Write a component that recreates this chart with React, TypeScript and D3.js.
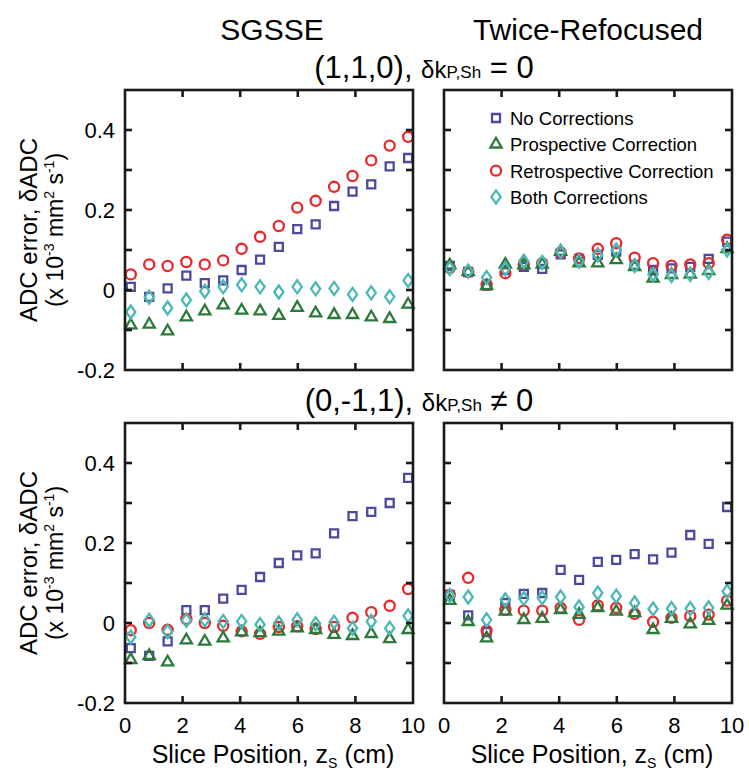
import React, { useEffect, useRef } from 'react';
import * as d3 from 'd3';

// slice positions (cm)
const slicePos = [0.2, 0.84, 1.48, 2.13, 2.77, 3.41, 4.05, 4.69, 5.34, 5.98, 6.62, 7.26, 7.9, 8.55, 9.19, 9.83];

// SGSSE, (1,1,0)
const sgNo110 = [0.008, -0.017, 0.004, 0.036, 0.017, 0.024, 0.05, 0.076, 0.108, 0.152, 0.164, 0.21, 0.246, 0.264, 0.309, 0.33];
const sgPro110 = [-0.088, -0.086, -0.103, -0.068, -0.053, -0.038, -0.051, -0.053, -0.064, -0.044, -0.058, -0.062, -0.062, -0.068, -0.072, -0.036];
const sgRetro110 = [0.039, 0.064, 0.06, 0.07, 0.064, 0.074, 0.103, 0.133, 0.16, 0.206, 0.223, 0.258, 0.285, 0.324, 0.361, 0.383];
const sgBoth110 = [-0.055, -0.018, -0.045, -0.025, -0.003, 0.008, 0.013, 0.008, -0.005, 0.008, 0.003, 0.004, -0.011, -0.007, -0.017, 0.024];

// Twice-Refocused, (1,1,0)
const trNo110 = [0.06, 0.045, 0.011, 0.05, 0.058, 0.053, 0.089, 0.078, 0.088, 0.096, 0.063, 0.05, 0.054, 0.058, 0.078, 0.121];
const trPro110 = [0.062, 0.045, 0.01, 0.064, 0.062, 0.064, 0.096, 0.067, 0.067, 0.075, 0.058, 0.029, 0.038, 0.039, 0.048, 0.103];
const trRetro110 = [0.055, 0.045, 0.013, 0.042, 0.064, 0.067, 0.094, 0.079, 0.103, 0.117, 0.081, 0.067, 0.061, 0.064, 0.067, 0.126];
const trBoth110 = [0.054, 0.047, 0.031, 0.053, 0.072, 0.069, 0.096, 0.072, 0.088, 0.1, 0.061, 0.039, 0.036, 0.039, 0.044, 0.1];

// SGSSE, (0,-1,1)
const sgNo011 = [-0.063, -0.082, -0.046, 0.032, 0.032, 0.061, 0.083, 0.115, 0.15, 0.169, 0.174, 0.224, 0.267, 0.278, 0.3, 0.363];
const sgPro011 = [-0.092, -0.082, -0.098, -0.043, -0.046, -0.038, -0.023, -0.025, -0.021, -0.013, -0.017, -0.029, -0.032, -0.027, -0.04, -0.017];
const sgRetro011 = [-0.018, 0, -0.017, 0.01, 0, -0.007, -0.021, -0.027, -0.01, -0.008, -0.015, -0.01, 0.013, 0.027, 0.043, 0.085];
const sgBoth011 = [-0.035, 0.007, -0.021, 0.007, 0.008, 0.004, 0.004, -0.004, 0, 0.008, -0.002, 0.002, -0.013, 0.004, -0.013, 0.018];

// Twice-Refocused, (0,-1,1)
const trNo011 = [0.07, 0.019, -0.023, 0.05, 0.073, 0.075, 0.133, 0.108, 0.153, 0.158, 0.172, 0.159, 0.176, 0.22, 0.198, 0.29];
const trPro011 = [0.056, 0.003, -0.038, 0.029, 0.008, 0.011, 0.033, 0.021, 0.038, 0.029, 0.025, -0.017, 0.011, -0.003, 0.006, 0.044];
const trRetro011 = [0.07, 0.113, -0.019, 0.033, 0.031, 0.031, 0.038, 0.008, 0.044, 0.038, 0.023, 0.003, 0.013, 0.017, 0.021, 0.056];
const trBoth011 = [0.069, 0.065, 0.008, 0.058, 0.061, 0.063, 0.065, 0.04, 0.075, 0.067, 0.05, 0.035, 0.036, 0.036, 0.038, 0.079];

const seriesNames = ['No Corrections', 'Prospective Correction', 'Retrospective Correction', 'Both Corrections'];
const xTickLabels = [0, 2, 4, 6, 8, 10];
const yTickLabels = [0.4, 0.2, 0, -0.2];

const App = () => {
  const svgRef = useRef<SVGSVGElement>(null);

  useEffect(() => {
    const svg = d3.select(svgRef.current);
    svg.selectAll('*').remove();

    const font = '"Liberation Sans", Arial, sans-serif';
    const colors = ['#4b4a9c', '#2b7a3a', '#e8282b', '#4cb8b6'];

    // taller-than-wide diamond like MATLAB's 'd'
    const diamond = {
      draw(ctx: any, size: number) {
        const hh = Math.sqrt(size) * 0.65;
        const hw = Math.sqrt(size) * 0.46;
        ctx.moveTo(0, -hh);
        ctx.lineTo(hw, 0);
        ctx.lineTo(0, hh);
        ctx.lineTo(-hw, 0);
        ctx.closePath();
      },
    };
    const symbols = [
      d3.symbol().type(d3.symbolSquare).size(64),
      d3.symbol().type(d3.symbolTriangle).size(54),
      d3.symbol().type(d3.symbolCircle).size(80),
      d3.symbol().type(diamond as any).size(100),
    ];
    const drawOrder = [0, 2, 1, 3];

    const panels = [
      { left: 125, top: 90, series: [sgNo110, sgPro110, sgRetro110, sgBoth110], yLab: true, xLab: false, legend: false },
      { left: 444, top: 90, series: [trNo110, trPro110, trRetro110, trBoth110], yLab: false, xLab: false, legend: true },
      { left: 125, top: 423, series: [sgNo011, sgPro011, sgRetro011, sgBoth011], yLab: true, xLab: true, legend: false },
      { left: 444, top: 423, series: [trNo011, trPro011, trRetro011, trBoth011], yLab: false, xLab: true, legend: false },
    ];
    const pw = 288;
    const ph = 280;

    panels.forEach(p => {
      const x = d3.scaleLinear().domain([0, 10]).range([p.left, p.left + pw]);
      const y = d3.scaleLinear().domain([-0.2, 0.5]).range([p.top + ph, p.top]);
      const g = svg.append('g');

      // markers
      drawOrder.forEach(si => {
        g.selectAll(null)
          .data(p.series[si])
          .enter()
          .append('path')
          .attr('d', symbols[si] as any)
          .attr('transform', (d, i) => `translate(${x(slicePos[i])},${y(d)})`)
          .attr('fill', 'none')
          .attr('stroke', colors[si])
          .attr('stroke-width', 2.3);
      });

      // frame
      g.append('rect')
        .attr('x', p.left)
        .attr('y', p.top)
        .attr('width', pw)
        .attr('height', ph)
        .attr('fill', 'none')
        .attr('stroke', '#1a1a1a')
        .attr('stroke-width', 2.6);

      // inward ticks
      const xt = [2, 4, 6, 8];
      const yt = y.ticks(7).filter(v => v > -0.2 + 1e-9 && v < 0.5 - 1e-9);
      xt.forEach(v => {
        g.append('line').attr('x1', x(v)).attr('x2', x(v)).attr('y1', p.top).attr('y2', p.top + 7)
          .attr('stroke', '#1a1a1a').attr('stroke-width', 2.6);
        g.append('line').attr('x1', x(v)).attr('x2', x(v)).attr('y1', p.top + ph).attr('y2', p.top + ph - 7)
          .attr('stroke', '#1a1a1a').attr('stroke-width', 2.6);
      });
      yt.forEach(v => {
        g.append('line').attr('x1', p.left).attr('x2', p.left + 7).attr('y1', y(v)).attr('y2', y(v))
          .attr('stroke', '#1a1a1a').attr('stroke-width', 2.6);
        g.append('line').attr('x1', p.left + pw).attr('x2', p.left + pw - 7).attr('y1', y(v)).attr('y2', y(v))
          .attr('stroke', '#1a1a1a').attr('stroke-width', 2.6);
      });

      if (p.yLab) {
        g.selectAll(null)
          .data(yTickLabels)
          .enter()
          .append('text')
          .attr('x', p.left - 10)
          .attr('y', d => y(d) + 8)
          .attr('text-anchor', 'end')
          .style('font-family', font)
          .style('font-size', '22px')
          .text(d => (d === 0 ? '0' : String(d)));

        const cy = p.top + ph / 2;
        g.append('text')
          .attr('transform', `translate(37,${cy}) rotate(-90)`)
          .attr('text-anchor', 'middle')
          .style('font-family', font)
          .style('font-size', '24px')
          .text('ADC error, δADC');
        const lab2 = g.append('text')
          .attr('transform', `translate(63,${cy}) rotate(-90)`)
          .attr('text-anchor', 'middle')
          .style('font-family', font)
          .style('font-size', '23px');
        lab2.append('tspan').text('(x 10');
        lab2.append('tspan').attr('dy', -9).style('font-size', '14px').text('-3');
        lab2.append('tspan').attr('dy', 9).text(' mm');
        lab2.append('tspan').attr('dy', -9).style('font-size', '14px').text('2');
        lab2.append('tspan').attr('dy', 9).text(' s');
        lab2.append('tspan').attr('dy', -9).style('font-size', '14px').text('-1');
        lab2.append('tspan').attr('dy', 9).text(')');
      }

      if (p.xLab) {
        g.selectAll(null)
          .data(xTickLabels)
          .enter()
          .append('text')
          .attr('x', d => x(d))
          .attr('y', p.top + ph + 30)
          .attr('text-anchor', 'middle')
          .style('font-family', font)
          .style('font-size', '22px')
          .text(d => String(d));

        const xl = g.append('text')
          .attr('x', p.left + pw / 2 + 4)
          .attr('y', 763)
          .attr('text-anchor', 'middle')
          .style('font-family', font)
          .style('font-size', '25px');
        xl.append('tspan').text('Slice Position, z');
        xl.append('tspan').attr('dy', 5).style('font-size', '14px').text('S');
        xl.append('tspan').attr('dy', -5).text(' (cm)');
      }

      if (p.legend) {
        const lg = g.append('g');
        seriesNames.forEach((name, si) => {
          const ly = p.top + 28 + si * 26.3;
          lg.append('path')
            .attr('d', symbols[si] as any)
            .attr('transform', `translate(${p.left + 52},${ly})`)
            .attr('fill', 'none')
            .attr('stroke', colors[si])
            .attr('stroke-width', 2.3);
          lg.append('text')
            .attr('x', p.left + 66)
            .attr('y', ly + 7)
            .style('font-family', font)
            .style('font-size', '18.5px')
            .text(name);
        });
      }
    });

    // column titles
    svg.append('text')
      .attr('x', 125 + pw / 2 + 3)
      .attr('y', 40)
      .attr('text-anchor', 'middle')
      .style('font-family', font)
      .style('font-size', '30px')
      .text('SGSSE');
    svg.append('text')
      .attr('x', 444 + pw / 2)
      .attr('y', 40)
      .attr('text-anchor', 'middle')
      .style('font-family', font)
      .style('font-size', '30px')
      .text('Twice-Refocused');

    // row subtitles
    const subtitle = (xPos: number, yPos: number, lead: string, tail: string) => {
      const t = svg.append('text')
        .attr('x', xPos)
        .attr('y', yPos)
        .attr('text-anchor', 'middle')
        .style('font-family', font)
        .style('font-size', '31px');
      t.append('tspan').text(lead);
      t.append('tspan').style('font-size', '24px').text('δk');
      t.append('tspan').style('font-size', '17px').text('P,Sh');
      t.append('tspan').text(tail);
    };
    subtitle(424, 78, '(1,1,0), ', ' = 0');
    subtitle(419, 411, '(0,-1,1), ', ' ≠ 0');
  }, []);

  return (
    <svg
      ref={svgRef}
      width={749}
      height={773}
      style={{ position: 'absolute', left: 0, top: 0, background: '#fff' }}
    />
  );
};

export default App;
